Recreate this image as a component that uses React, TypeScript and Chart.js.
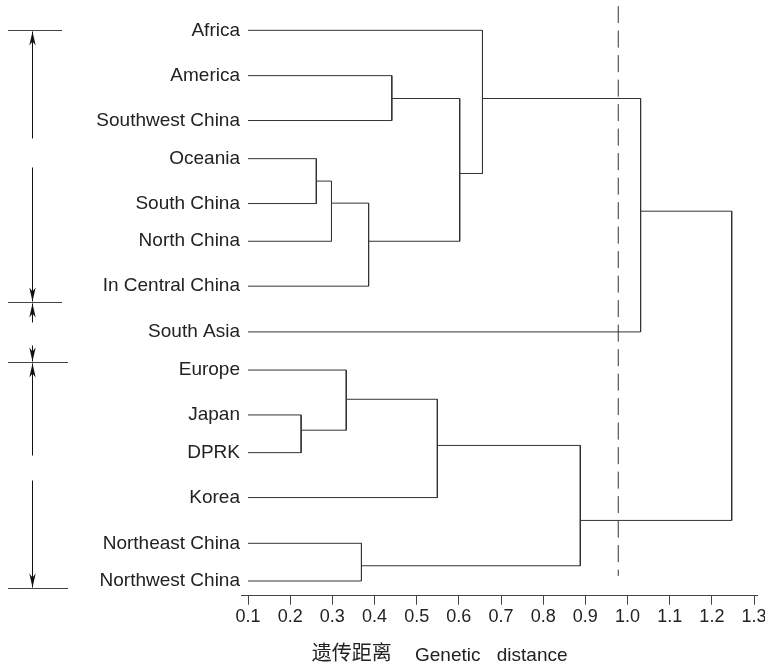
import React, { useEffect, useRef } from "react";
import { Chart, registerables } from "chart.js";

Chart.register(...registerables);

// Leaves (top to bottom) and their row positions
const leaves = [
  "Africa",
  "America",
  "Southwest China",
  "Oceania",
  "South China",
  "North China",
  "In Central China",
  "South Asia",
  "Europe",
  "Japan",
  "DPRK",
  "Korea",
  "Northeast China",
  "Northwest China",
];
const leafRows = [0, 1.07, 2.13, 3.03, 4.09, 4.98, 6.04, 7.12, 8.02, 9.08, 9.97, 11.03, 12.11, 13];
const leafStart = 0.1;

// Merges: node index 14 + k joins mergeLeft[k] and mergeRight[k] at mergeHeight[k]
const mergeLeft = [3, 14, 15, 1, 17, 0, 19, 9, 8, 22, 12, 23, 20];
const mergeRight = [4, 5, 6, 2, 16, 18, 7, 10, 21, 11, 13, 24, 25];
const mergeHeight = [0.262, 0.298, 0.386, 0.441, 0.602, 0.656, 1.031, 0.226, 0.333, 0.549, 0.369, 0.888, 1.247];
const mergeRow = [3.56, 4.08, 4.98, 1.61, 3.38, 1.61, 4.27, 9.44, 8.71, 9.8, 12.64, 11.57, 7.9];

// Cut-off (dashed) line
const cutoffValue = 0.978;
const cutoffRows = [-0.57, 12.88];

// X axis ticks
const tickValues = [0.1, 0.2, 0.3, 0.4, 0.5, 0.6, 0.7, 0.8, 0.9, 1.0, 1.1, 1.2, 1.3];
const tickLabels = ["0.1", "0.2", "0.3", "0.4", "0.5", "0.6", "0.7", "0.8", "0.9", "1.0", "1.1", "1.2", "1.3"];

// Group brackets on the left (row boundaries) and gaps in the long shafts
const groupBounds = [0, 6.41, 7.83, 13.17];
const group1Gap = [2.54, 3.22];
const group3Gap = [10.03, 10.62];

const titleCn = "遗传距离";
const titleEn1 = "Genetic";
const titleEn2 = "distance";

const LATIN = "'Liberation Sans', Arial, sans-serif";
const CJK = "'Noto Sans CJK SC', 'Noto Sans', sans-serif";
const LINE = "#333";

function nodeHeight(i: number) {
  return i < leaves.length ? leafStart : mergeHeight[i - leaves.length];
}
function nodeRow(i: number) {
  return i < leaves.length ? leafRows[i] : mergeRow[i - leaves.length];
}

function buildDatasets() {
  const ds: any[] = [];
  for (let k = 0; k < mergeHeight.length; k++) {
    const a = mergeLeft[k];
    const b = mergeRight[k];
    const H = mergeHeight[k];
    ds.push({
      type: "scatter",
      data: [
        { x: nodeHeight(a), y: nodeRow(a) },
        { x: H, y: nodeRow(a) },
        { x: H, y: nodeRow(b) },
        { x: nodeHeight(b), y: nodeRow(b) },
      ],
      showLine: true,
      borderColor: LINE,
      borderWidth: 1,
      pointRadius: 0,
      fill: false,
      tension: 0,
    });
  }
  ds.push({
    type: "scatter",
    data: [
      { x: cutoffValue, y: cutoffRows[0] },
      { x: cutoffValue, y: cutoffRows[1] },
    ],
    showLine: true,
    borderColor: "#333",
    borderWidth: 1,
    borderDash: [17, 7.5],
    pointRadius: 0,
    fill: false,
  });
  return ds;
}

function arrowHead(ctx: CanvasRenderingContext2D, x: number, tipY: number, dir: number) {
  // dir = -1: pointing up (tip above), dir = 1: pointing down
  const len = 14;
  const hw = 3.2;
  const notch = 10;
  ctx.beginPath();
  ctx.moveTo(x, tipY);
  ctx.lineTo(x - hw, tipY - dir * len);
  ctx.lineTo(x, tipY - dir * notch);
  ctx.lineTo(x + hw, tipY - dir * len);
  ctx.closePath();
  ctx.fill();
}

function vline(ctx: CanvasRenderingContext2D, x: number, y1: number, y2: number) {
  ctx.beginPath();
  ctx.moveTo(x, y1);
  ctx.lineTo(x, y2);
  ctx.stroke();
}
function hline(ctx: CanvasRenderingContext2D, x1: number, x2: number, y: number) {
  ctx.beginPath();
  ctx.moveTo(x1, y);
  ctx.lineTo(x2, y);
  ctx.stroke();
}

const annotationPlugin = {
  id: "annotations",
  afterDraw(chart: any) {
    const ctx: CanvasRenderingContext2D = chart.ctx;
    const ys = chart.scales.y;
    const xs = chart.scales.x;
    const py = (r: number) => Math.round(ys.getPixelForValue(r)) + 0.5;
    ctx.save();
    ctx.lineWidth = 1;
    const ax = 32.5;
    const b0 = py(groupBounds[0]);
    const b1 = py(groupBounds[1]);
    const b2 = py(groupBounds[2]);
    const b3 = py(groupBounds[3]);
    // boundary lines
    ctx.strokeStyle = "#444";
    hline(ctx, 8, 62, b0);
    hline(ctx, 8, 62, b1);
    hline(ctx, 8, 68, b2);
    hline(ctx, 8, 68, b3);
    ctx.strokeStyle = "#111";
    ctx.fillStyle = "#111";
    // group 1
    vline(ctx, ax, b0 + 1, py(group1Gap[0]));
    vline(ctx, ax, py(group1Gap[1]), b1 - 1);
    arrowHead(ctx, ax, b0 + 1, -1);
    arrowHead(ctx, ax, b1 - 1, 1);
    // group 2 (outside arrows)
    vline(ctx, ax, b1 + 1, b1 + 20);
    arrowHead(ctx, ax, b1 + 1, -1);
    vline(ctx, ax, b2 - 17, b2 - 1);
    arrowHead(ctx, ax, b2 - 1, 1);
    // group 3
    vline(ctx, ax, b2 + 1, py(group3Gap[0]));
    vline(ctx, ax, py(group3Gap[1]), b3 - 1);
    arrowHead(ctx, ax, b2 + 1, -1);
    arrowHead(ctx, ax, b3 - 1, 1);

    // axis title
    const baseY = chart.chartArea.bottom + 65.5;
    ctx.fillStyle = "#222";
    ctx.textBaseline = "alphabetic";
    ctx.textAlign = "left";
    ctx.font = `20px ${CJK}`;
    ctx.fillText(titleCn, xs.getPixelForValue(0.251), baseY - 1);
    ctx.font = `19px ${LATIN}`;
    ctx.fillText(titleEn1, xs.getPixelForValue(0.496), baseY);
    ctx.fillText(titleEn2, xs.getPixelForValue(0.69), baseY);
    ctx.restore();
  },
};

export default function App() {
  const ref = useRef<HTMLCanvasElement | null>(null);
  useEffect(() => {
    if (!ref.current) return;
    const chart = new Chart(ref.current, {
      type: "scatter",
      data: { datasets: buildDatasets() },
      options: {
        animation: false,
        responsive: false,
        devicePixelRatio: 1,
        events: [],
        layout: { padding: { left: 0, top: 0, right: 8, bottom: 0 } },
        plugins: {
          legend: { display: false },
          tooltip: { enabled: false },
          title: { display: false },
        },
        scales: {
          x: {
            type: "linear",
            min: 0.0834,
            max: 1.307,
            afterBuildTicks: (scale: any) => {
              scale.ticks = tickValues.map((v) => ({ value: v }));
            },
            afterFit: (scale: any) => {
              scale.height = 69.3;
              scale.paddingLeft = 0;
              scale.paddingRight = 0;
            },
            ticks: {
              callback: (_v: any, i: number) => tickLabels[i],
              font: { family: LATIN, size: 18 },
              color: "#222",
              padding: 2,
              maxRotation: 0,
              autoSkip: false,
            },
            grid: { drawOnChartArea: false, drawTicks: true, tickLength: 9, color: "#444" },
            border: { display: true, color: "#444", width: 1 },
          },
          y: {
            type: "linear",
            reverse: true,
            min: -0.7153,
            max: 13.347,
            afterBuildTicks: (scale: any) => {
              scale.ticks = leafRows.map((v) => ({ value: v }));
            },
            afterFit: (scale: any) => {
              scale.width = 241;
              scale.paddingTop = 0;
              scale.paddingBottom = 0;
            },
            ticks: {
              callback: (_v: any, i: number) => leaves[i],
              font: { family: LATIN, size: 19 },
              color: "#222",
              padding: 1,
              autoSkip: false,
            },
            grid: { display: false, drawTicks: false },
            border: { display: false },
          },
        },
      } as any,
      plugins: [annotationPlugin],
    });
    return () => chart.destroy();
  }, []);
  return (
    <div style={{ position: "absolute", left: 0, top: 0, width: 765, height: 665, background: "#fff" }}>
      <canvas ref={ref} width={765} height={665} style={{ width: 765, height: 665, display: "block" }} />
    </div>
  );
}
